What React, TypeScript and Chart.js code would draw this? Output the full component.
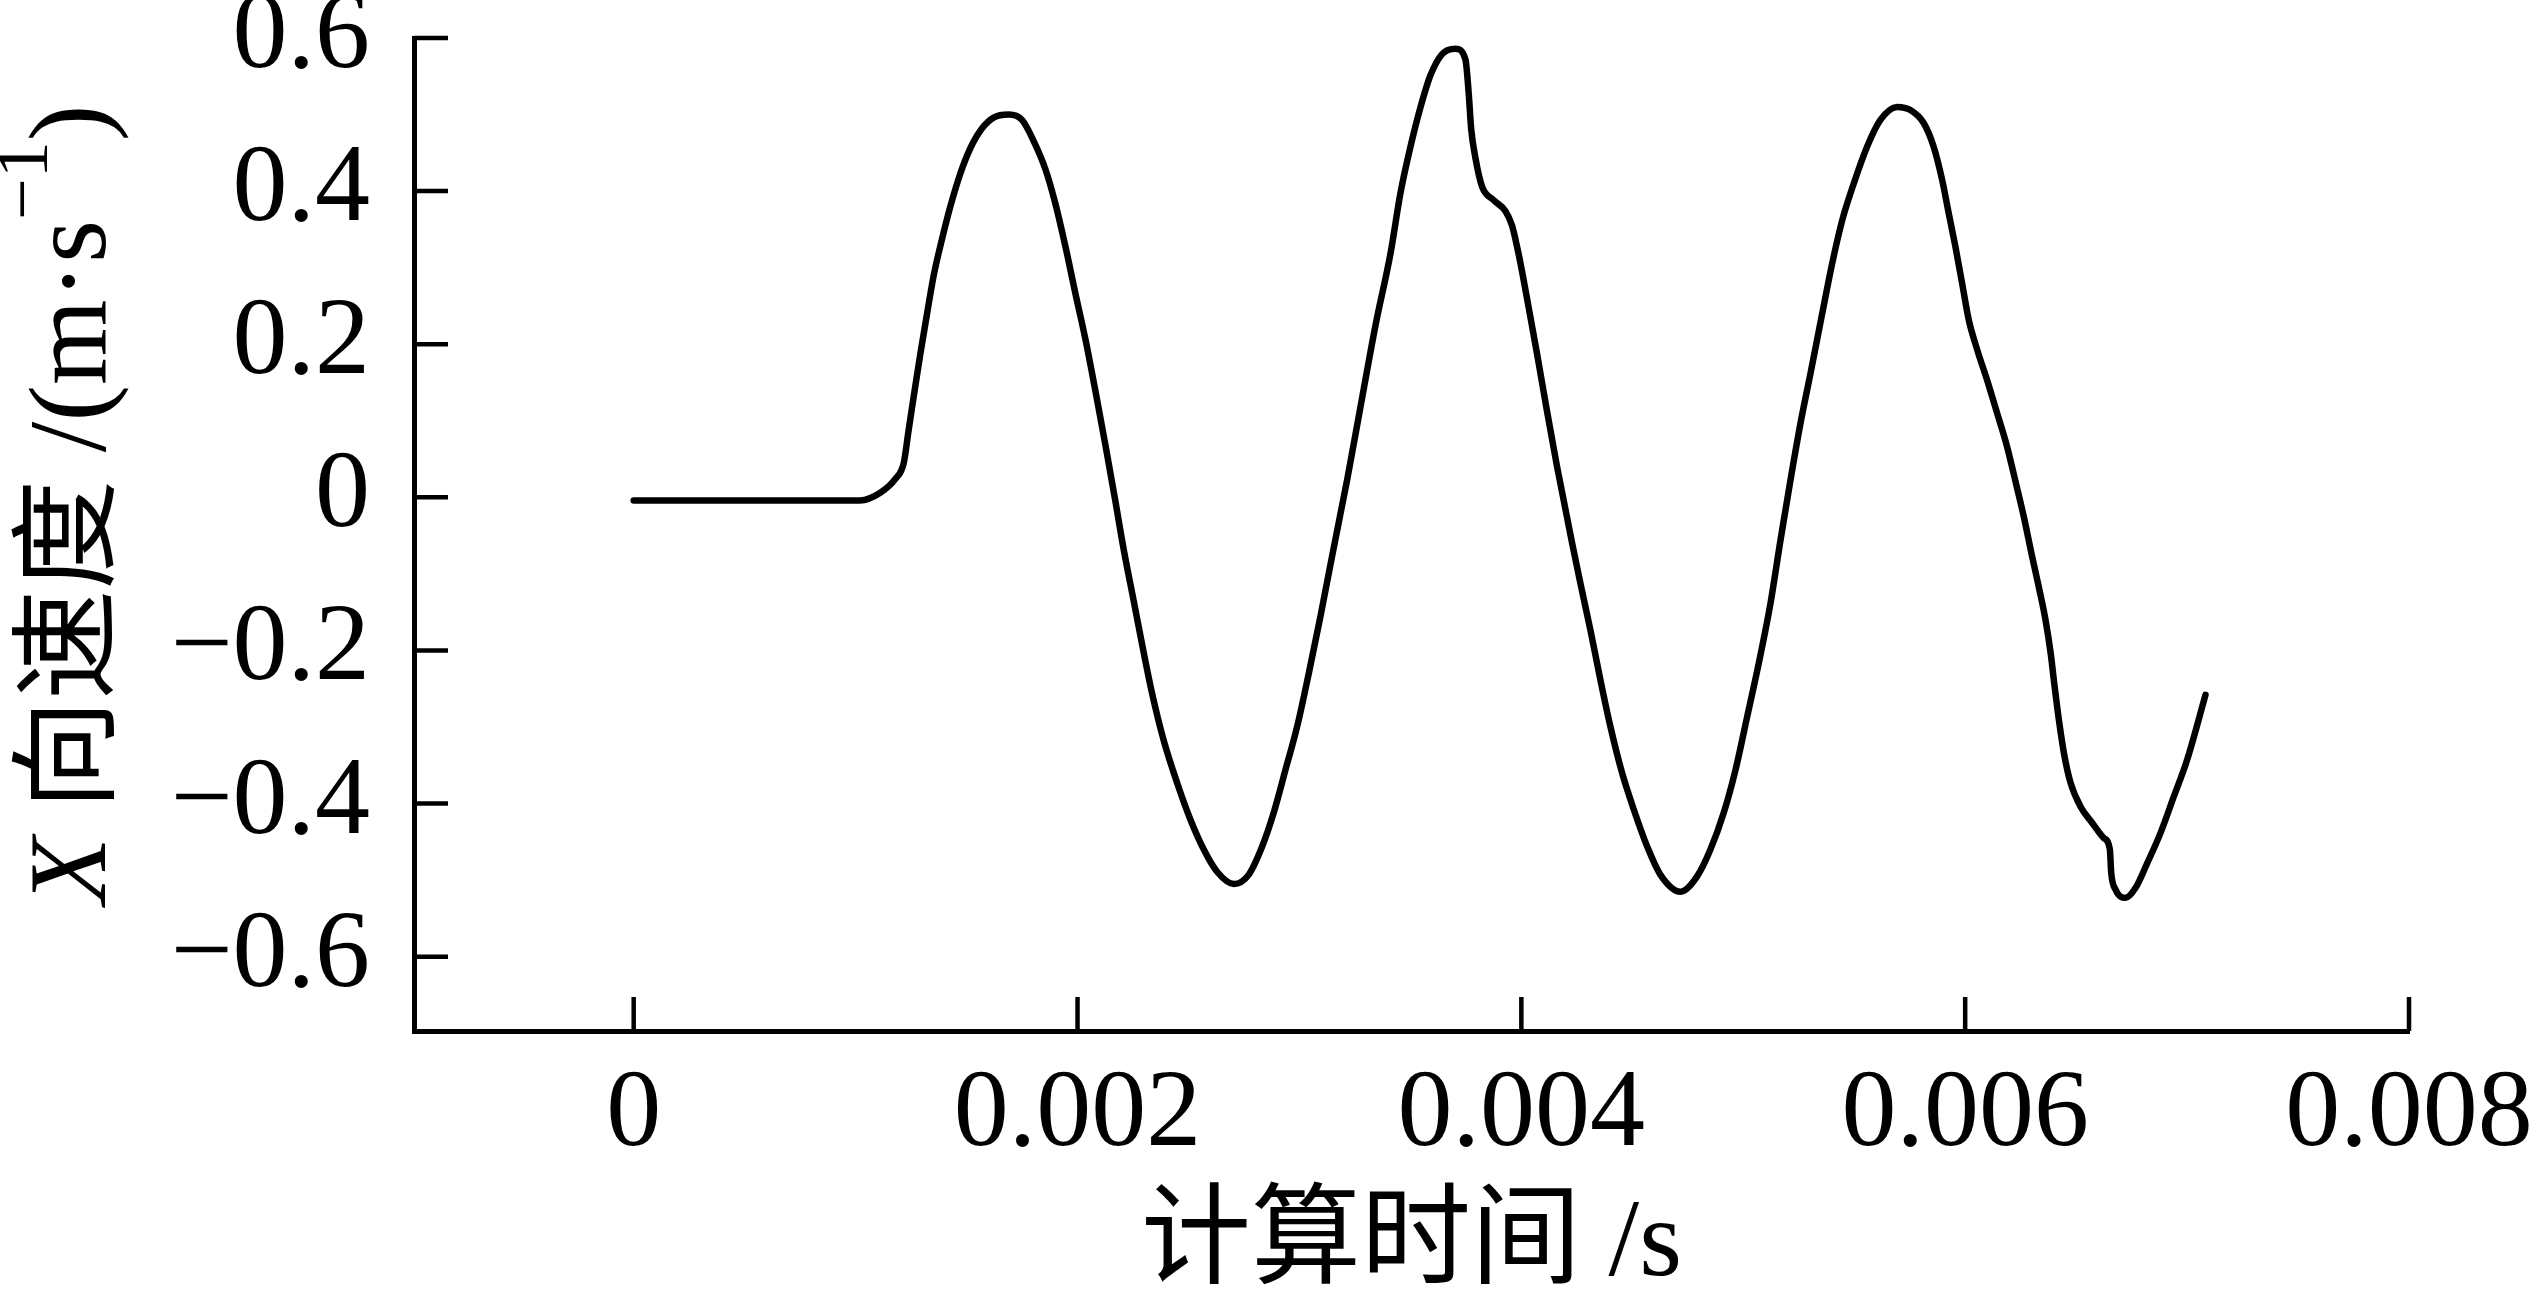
import React, { useEffect, useRef } from "react";
import { Chart, registerables } from "chart.js";

Chart.register(...registerables);

// ---- data ----
const timeS: number[] = [
  0, 0.00102, 0.001111, 0.001179, 0.001217, 0.001239, 0.001262, 0.001292, 0.001322, 0.001352,
  0.00139, 0.001427, 0.001472, 0.001517, 0.00157, 0.001622, 0.00169, 0.00175, 0.001803, 0.001856,
  0.0019, 0.001946, 0.00199, 0.002036, 0.00208, 0.002126, 0.00217, 0.002208, 0.002253, 0.002291,
  0.002336, 0.002388, 0.002449, 0.002509, 0.002569, 0.002629, 0.002704, 0.002771, 0.002832, 0.002884,
  0.002937, 0.00299, 0.003042, 0.003095, 0.003147, 0.003215, 0.003275, 0.003343, 0.00341, 0.003455,
  0.0035, 0.003545, 0.00359, 0.003643, 0.003703, 0.003748, 0.003763, 0.003774, 0.003793, 0.003823,
  0.003876, 0.003928, 0.003958, 0.003981, 0.004004, 0.004033, 0.004071, 0.004116, 0.004161, 0.004229,
  0.004266, 0.004311, 0.004356, 0.004401, 0.004454, 0.004507, 0.004567, 0.004627, 0.004717, 0.004792,
  0.004852, 0.004912, 0.004965, 0.005018, 0.00507, 0.005123, 0.005168, 0.005213, 0.005258, 0.005303,
  0.005356, 0.005401, 0.005446, 0.005498, 0.005558, 0.005618, 0.005693, 0.005753, 0.005813, 0.005858,
  0.005896, 0.005926, 0.005956, 0.005986, 0.006016, 0.006054, 0.006099, 0.006144, 0.006189, 0.006225,
  0.006264, 0.0063, 0.006334, 0.006362, 0.006385, 0.006403, 0.006422, 0.006445, 0.006475, 0.00652,
  0.006572, 0.006625, 0.006652, 0.006658, 0.006678, 0.006723, 0.006768, 0.00682, 0.00688, 0.00694,
  0.007, 0.007083,
];

const velocityX: number[] = [
  -0.004, -0.004, 0.006, 0.024, 0.045, 0.088, 0.132, 0.188, 0.24, 0.29,
  0.338, 0.38, 0.423, 0.456, 0.482, 0.496, 0.5, 0.493, 0.465, 0.428,
  0.384, 0.327, 0.267, 0.206, 0.14, 0.068, -0.004, -0.068, -0.135, -0.192,
  -0.256, -0.317, -0.373, -0.421, -0.46, -0.489, -0.505, -0.493, -0.456, -0.412,
  -0.356, -0.299, -0.23, -0.155, -0.077, 0.023, 0.118, 0.225, 0.318, 0.397,
  0.4575, 0.509, 0.551, 0.579, 0.586, 0.572, 0.527, 0.481, 0.4435, 0.406,
  0.388, 0.374, 0.355, 0.327, 0.294, 0.248, 0.187, 0.112, 0.04, -0.06,
  -0.112, -0.173, -0.238, -0.299, -0.36, -0.408, -0.456, -0.493, -0.515, -0.495,
  -0.46, -0.412, -0.356, -0.286, -0.2165, -0.138, -0.0555, 0.0229, 0.097, 0.162,
  0.2405, 0.306, 0.362, 0.41, 0.458, 0.493, 0.51, 0.506, 0.489, 0.458,
  0.415, 0.371, 0.3275, 0.28, 0.232, 0.193, 0.153, 0.11, 0.066, 0.023,
  -0.025, -0.075, -0.12, -0.16, -0.203, -0.247, -0.29, -0.334, -0.373, -0.404,
  -0.425, -0.445, -0.46, -0.49, -0.5125, -0.523, -0.51, -0.478, -0.4385, -0.391,
  -0.343, -0.258,
];

const xTickValues: number[] = [0, 0.002, 0.004, 0.006, 0.008];
const xTickLabels: string[] = ["0", "0.002", "0.004", "0.006", "0.008"];
const yTickValues: number[] = [-0.6, -0.4, -0.2, 0, 0.2, 0.4, 0.6];
const yTickLabels: string[] = ["\u22120.6", "\u22120.4", "\u22120.2", "0", "0.2", "0.4", "0.6"];

const xAxisTitle = "计算时间 /s";
const yTitleItalic = "X";
const yTitleMain = " 向速度 /(m\u00B7s";
const yTitleSup = "\u22121";
const yTitleEnd = ")";

const SERIF = '"Liberation Serif", "Noto Sans CJK SC", serif';

const inwardTicks = {
  id: "inwardTicks",
  afterDraw(chart: any) {
    const { ctx, chartArea, scales } = chart;
    const len = 34;
    ctx.save();
    ctx.strokeStyle = "#000";
    ctx.lineWidth = 4.5;
    ctx.lineCap = "butt";
    for (const v of xTickValues) {
      const px = scales.x.getPixelForValue(v);
      ctx.beginPath();
      ctx.moveTo(px, chartArea.bottom);
      ctx.lineTo(px, chartArea.bottom - len);
      ctx.stroke();
    }
    for (const v of yTickValues) {
      const py = scales.y.getPixelForValue(v);
      ctx.beginPath();
      ctx.moveTo(chartArea.left, py);
      ctx.lineTo(chartArea.left + len, py);
      ctx.stroke();
    }
    ctx.restore();
  },
};

const yTitlePlugin = {
  id: "yTitleRich",
  afterDraw(chart: any) {
    const { ctx, chartArea } = chart;
    const cy = (chartArea.top + chartArea.bottom) / 2 - 30;
    const baseX = 105;
    const segs = [
      { text: yTitleItalic, font: `italic 110px ${SERIF}`, rise: 0 },
      { text: yTitleMain, font: `110px ${SERIF}`, rise: 0 },
      { text: yTitleSup, font: `74px ${SERIF}`, rise: 58 },
      { text: yTitleEnd, font: `110px ${SERIF}`, rise: 0 },
    ];
    ctx.save();
    ctx.fillStyle = "#000";
    ctx.textBaseline = "alphabetic";
    ctx.textAlign = "left";
    let total = 0;
    const widths: number[] = [];
    for (const s of segs) {
      ctx.font = s.font;
      const w = ctx.measureText(s.text).width;
      widths.push(w);
      total += w;
    }
    ctx.translate(baseX, cy);
    ctx.rotate(-Math.PI / 2);
    let x = -total / 2;
    segs.forEach((s, i) => {
      ctx.font = s.font;
      ctx.fillText(s.text, x, -s.rise);
      x += widths[i];
    });
    ctx.restore();
  },
};

export default function App() {
  const canvasRef = useRef<HTMLCanvasElement | null>(null);

  useEffect(() => {
    const canvas = canvasRef.current;
    if (!canvas) return;
    const points = timeS.map((t, i) => ({ x: t, y: velocityX[i] }));
    const chart = new Chart(canvas, {
      type: "line",
      data: {
        datasets: [
          {
            data: points,
            borderColor: "#000",
            borderWidth: 6.5,
            pointRadius: 0,
            fill: false,
            cubicInterpolationMode: "monotone",
            borderCapStyle: "round",
            borderJoinStyle: "round",
          },
        ],
      },
      options: {
        responsive: false,
        animation: false,
        devicePixelRatio: 1,
        layout: { padding: { left: 0, top: 38, right: 128, bottom: 0 } },
        plugins: {
          legend: { display: false },
          tooltip: { enabled: false },
        },
        scales: {
          x: {
            type: "linear",
            min: -0.00099,
            max: 0.008,
            afterBuildTicks: (s: any) => {
              s.ticks = xTickValues.map((value) => ({ value }));
            },
            afterFit: (s: any) => {
              s.height = 259;
              s.paddingLeft = 0;
              s.paddingRight = 0;
            },
            grid: { display: false, drawTicks: false, tickLength: 0 },
            border: { display: true, color: "#000", width: 5 },
            ticks: {
              autoSkip: false,
              maxRotation: 0,
              minRotation: 0,
              padding: 19,
              color: "#000",
              font: { family: SERIF, size: 110, lineHeight: 1.2 },
              callback: (_v: any, i: number) => xTickLabels[i],
            },
            title: {
              display: true,
              text: xAxisTitle,
              color: "#000",
              font: { family: SERIF, size: 110, lineHeight: 0.8 },
              padding: { top: 0, bottom: 0 },
            },
          },
          y: {
            type: "linear",
            min: -0.697,
            max: 0.6,
            afterBuildTicks: (s: any) => {
              s.ticks = yTickValues.map((value) => ({ value }));
            },
            afterFit: (s: any) => {
              s.width = 414;
              s.paddingTop = 0;
              s.paddingBottom = 0;
            },
            grid: { display: false, drawTicks: false, tickLength: 0 },
            border: { display: true, color: "#000", width: 5 },
            ticks: {
              autoSkip: false,
              padding: 44,
              color: "#000",
              font: { family: SERIF, size: 110, lineHeight: 1.2 },
              callback: (_v: any, i: number) => yTickLabels[i],
            },
          },
        },
      },
      plugins: [inwardTicks, yTitlePlugin],
    } as any);
    return () => chart.destroy();
  }, []);

  return (
    <div style={{ position: "fixed", left: 0, top: 0, width: 2537, height: 1290, background: "#fff" }}>
      <canvas ref={canvasRef} width={2537} height={1290} style={{ display: "block" }} />
    </div>
  );
}
